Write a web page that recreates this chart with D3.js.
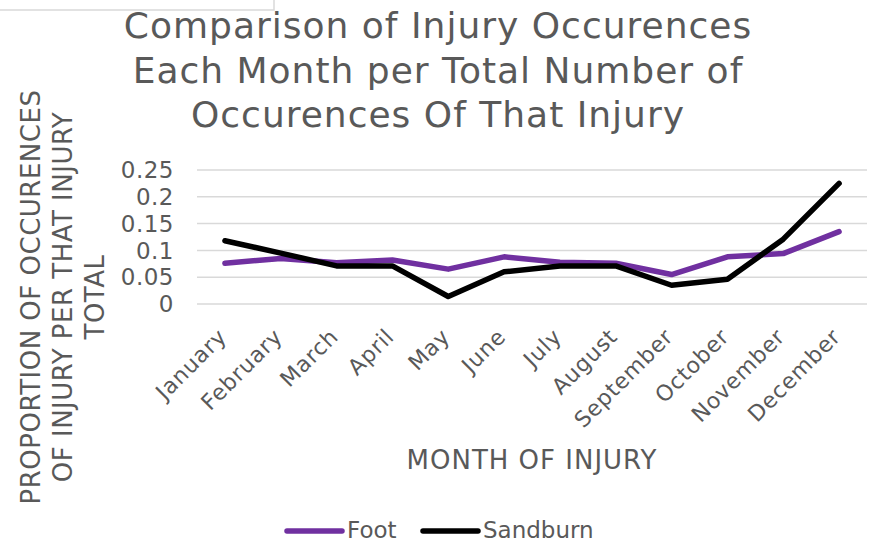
<!DOCTYPE html>
<html>
<head>
<meta charset="utf-8">
<script src="https://cdn.jsdelivr.net/npm/d3@7"></script>
<style>
  body { margin: 0; background: #fff; }
  text { font-family: "DejaVu Sans", Verdana, sans-serif; fill: #595959; }
</style>
</head>
<body>
<svg width="875" height="542"></svg>
<script>
const months = ['January', 'February', 'March', 'April', 'May', 'June',
  'July', 'August', 'September', 'October', 'November', 'December'];
const foot = [0.076, 0.085, 0.077, 0.082, 0.065, 0.088, 0.078, 0.076, 0.055, 0.088, 0.094, 0.135];
const sandburn = [0.118, 0.095, 0.071, 0.071, 0.014, 0.060, 0.071, 0.071, 0.035, 0.046, 0.121, 0.225];
const yTicks = [0, 0.05, 0.1, 0.15, 0.2, 0.25];
const seriesNames = ['Foot', 'Sandburn'];
const seriesColors = ['#7030a0', '#000000'];

const svg = d3.select('svg');

// stray box in the top-left corner
svg.append('rect')
  .attr('x', -2).attr('y', -2)
  .attr('width', 276).attr('height', 12)
  .attr('fill', 'none')
  .attr('stroke', '#d9d9d9')
  .attr('stroke-width', 1.5);

const x = d3.scaleBand().domain(months).range([197, 867]);
const y = d3.scaleLinear().domain([0, 0.25]).range([304, 170]);

// title
const titleLines = ['Comparison of Injury Occurences', 'Each Month per Total Number of', 'Occurences Of That Injury'];
svg.append('text')
  .attr('text-anchor', 'middle')
  .style('font-size', '36px')
  .style('letter-spacing', '1px')
  .selectAll('tspan')
  .data(titleLines)
  .join('tspan')
  .attr('x', 438)
  .attr('y', (d, i) => 38 + i * 44.5)
  .text(d => d);

// gridlines
svg.append('g')
  .selectAll('line')
  .data(yTicks)
  .join('line')
  .attr('x1', 197).attr('x2', 867)
  .attr('y1', d => y(d)).attr('y2', d => y(d))
  .attr('stroke', '#d9d9d9')
  .attr('stroke-width', 1.5);

// y axis labels
svg.append('g')
  .selectAll('text')
  .data(yTicks)
  .join('text')
  .attr('x', 174)
  .attr('y', d => y(d))
  .attr('dy', '0.36em')
  .attr('text-anchor', 'end')
  .style('font-size', '23px')
  .style('letter-spacing', '0.5px')
  .text(d => d3.format('')(d));

// x axis labels
svg.append('g')
  .selectAll('text')
  .data(months)
  .join('text')
  .attr('text-anchor', 'end')
  .attr('transform', d => `translate(${x(d) + x.bandwidth() / 2 + 3}, 338) rotate(-45)`)
  .style('font-size', '22px')
  .style('letter-spacing', '0.8px')
  .text(d => d);

// axis titles
svg.append('text')
  .attr('x', 532).attr('y', 469)
  .attr('text-anchor', 'middle')
  .style('font-size', '26px')
  .style('letter-spacing', '1px')
  .text('MONTH OF INJURY');

const yTitle = ['PROPORTION OF OCCURENCES', 'OF INJURY PER THAT INJURY', 'TOTAL'];
svg.append('text')
  .attr('text-anchor', 'middle')
  .attr('transform', 'translate(0, 297) rotate(-90)')
  .style('font-size', '26px')
  .style('letter-spacing', '0.5px')
  .selectAll('tspan')
  .data(yTitle)
  .join('tspan')
  .attr('x', 0)
  .attr('y', (d, i) => 40 + i * 32)
  .text(d => d);

// lines
const line = d3.line()
  .x((d, i) => x(months[i]) + x.bandwidth() / 2)
  .y(d => y(d));

[foot, sandburn].forEach((s, i) => {
  svg.append('path')
    .attr('d', line(s))
    .attr('fill', 'none')
    .attr('stroke', seriesColors[i])
    .attr('stroke-width', 5.5)
    .attr('stroke-linejoin', 'round')
    .attr('stroke-linecap', 'round');
});

// legend
const legendX = [287, 423];
seriesNames.forEach((name, i) => {
  svg.append('line')
    .attr('x1', legendX[i]).attr('x2', legendX[i] + 55)
    .attr('y1', 531).attr('y2', 531)
    .attr('stroke', seriesColors[i])
    .attr('stroke-width', 5.5)
    .attr('stroke-linecap', 'round');
  svg.append('text')
    .attr('x', legendX[i] + 60)
    .attr('y', 538)
    .style('font-size', '23px')
    .text(name);
});
</script>
</body>
</html>
